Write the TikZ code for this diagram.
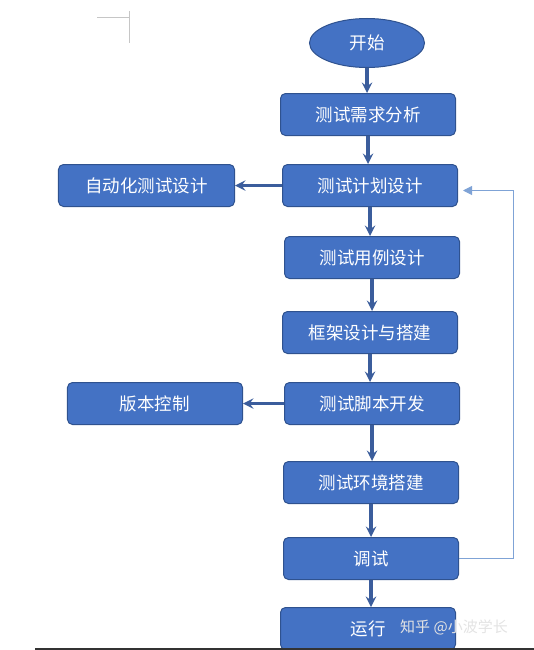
\documentclass[tikz,border=0pt]{standalone}
\usepackage{fontspec}
\newfontfamily\cjk{Noto Sans CJK SC}
\usetikzlibrary{shapes.geometric, arrows, arrows.meta, positioning}
\definecolor{boxblue}{HTML}{4472C4}
\definecolor{boxline}{HTML}{2F528F}
\definecolor{arrowblue}{HTML}{3B5D9C}
\definecolor{loopblue}{HTML}{7FA3D6}

\begin{document}
\begin{tikzpicture}[
        x=1bp, y=1bp,
        node distance=29bp,
        stepbox/.style={rectangle, draw=boxline, line width=1bp, fill=boxblue, rounded corners=5bp, minimum width=175bp, minimum height=42bp, text=white, font=\cjk\fontsize{17.5bp}{20bp}\selectfont},
        startbox/.style={ellipse, draw=boxline, line width=1bp, fill=boxblue, minimum width=115bp, minimum height=49bp, inner sep=0pt, text=white, font=\cjk\fontsize{17.5bp}{20bp}\selectfont},
        arrow/.style={line width=3.5bp, draw=arrowblue, ->, >=stealth},
        loopline/.style={line width=1bp, draw=loopblue, -{Triangle[length=9bp, width=9bp]}}
    ]
        \useasboundingbox (0,0) rectangle (534,-650);

        % page corner mark
        \draw[gray!45, line width=0.7bp] (97,-17) -- (129,-17) (129,-11) -- (129,-43);

        % Main flow
        \node[startbox] (start) at (367,-43) {开始};
        \node[stepbox, below=25bp of start, xshift=1bp] (req) {测试需求分析};
        \node[stepbox, below=28bp of req, xshift=2bp] (plan) {测试计划设计};
        \node[stepbox, below=29bp of plan, xshift=2bp] (cases) {测试用例设计};
        \node[stepbox, below=32bp of cases, xshift=-2bp] (frame) {框架设计与搭建};
        \node[stepbox, below=28bp of frame, xshift=2bp] (script) {测试脚本开发};
        \node[stepbox, below=36bp of script, xshift=-1bp] (env) {测试环境搭建};
        \node[stepbox, below=33bp of env] (debug) {调试};
        \node[stepbox, below=27bp of debug, xshift=-3bp] (run) {运行};

        % Side tasks
        \node[stepbox, minimum width=176bp, left=47bp of plan] (auto) {自动化测试设计};
        \node[stepbox, left=41bp of script] (version) {版本控制};

        % Arrows
        \draw[arrow] (start.south) -- (start.south |- req.north);
        \draw[arrow] (req.south) -- (req.south |- plan.north);
        \draw[arrow] (plan.south) -- (plan.south |- cases.north);
        \draw[arrow] (cases.south) -- (cases.south |- frame.north);
        \draw[arrow] (frame.south) -- (frame.south |- script.north);
        \draw[arrow] (script.south) -- (script.south |- env.north);
        \draw[arrow] (env.south) -- (env.south |- debug.north);
        \draw[arrow] (debug.south) -- (debug.south |- run.north);
        \draw[arrow] (plan) -- (auto);
        \draw[arrow] (script) -- (version);

        % Loop back
        \draw[loopline] (debug.east) -- ++(54bp,0) |- ([xshift=5bp, yshift=-5bp]plan.east);

        % watermark
        \node[font=\cjk\fontsize{15bp}{18bp}\selectfont, text=white!78!gray] (mark) at (454,-627) {知乎 @小波学长};

        % bottom edge
        \draw[black!80, line width=2bp] (35,-649) -- (534,-649);
    \end{tikzpicture}
\end{document}
